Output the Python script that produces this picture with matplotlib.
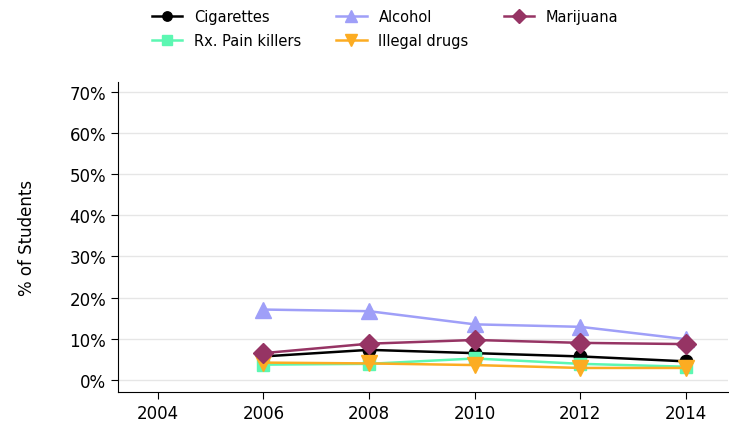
import matplotlib.pyplot as plt
from matplotlib.ticker import FuncFormatter

years = [2006, 2008, 2010, 2012, 2014]
cigarettes = [5.7, 7.3, 6.5, 5.7, 4.5]
alcohol = [17.1, 16.7, 13.5, 12.9, 9.9]
marijuana = [6.5, 8.8, 9.7, 9.0, 8.7]
rx_pain = [3.7, 3.9, 5.2, 3.9, 3.2]
illegal = [4.2, 4.0, 3.6, 2.9, 2.9]
xticks = [2004, 2006, 2008, 2010, 2012, 2014]
yticks = [0, 10, 20, 30, 40, 50, 60, 70]

plt.rcParams['font.family'] = 'DejaVu Sans'
fig = plt.figure(figsize=(7.29, 4.35), dpi=100)
ax = fig.add_axes([0.162, 0.097, 0.837, 0.712])

l_cig, = ax.plot(years, cigarettes, color='black', marker='o', ms=9, lw=1.8, label='Cigarettes')
l_alc, = ax.plot(years, alcohol, color='#9f9ff8', marker='^', ms=12, lw=1.8, label='Alcohol')
l_rx, = ax.plot(years, rx_pain, color='#5cf7b2', marker='s', ms=9, lw=1.8, label='Rx. Pain killers')
l_ill, = ax.plot(years, illegal, color='#fcac22', marker='v', ms=12, lw=1.8, label='Illegal drugs')
l_mar, = ax.plot(years, marijuana, color='#963464', marker='D', ms=10, lw=1.8, label='Marijuana')

ax.set_xlim(2003.25, 2014.8)
ax.set_ylim(-2.9, 72.4)
ax.set_xticks(xticks)
ax.set_yticks(yticks)
ax.yaxis.set_major_formatter(FuncFormatter(lambda v, p: '%d%%' % v))
ax.tick_params(labelsize=12, length=5, color='black')
ax.grid(axis='y', color='#e6e6e6', lw=1)
ax.set_axisbelow(True)
for s in ['top', 'right']:
    ax.spines[s].set_visible(False)
ax.set_ylabel('% of Students', fontsize=12, labelpad=24)

fig.legend([l_cig, l_rx, l_alc, l_ill, l_mar],
           ['Cigarettes', 'Rx. Pain killers', 'Alcohol', 'Illegal drugs', 'Marijuana'],
           ncol=3, loc='upper left', bbox_to_anchor=(0.19, 1.007), frameon=False,
           fontsize=10.5, handlelength=2.1, markerscale=0.75, columnspacing=2.4,
           labelspacing=0.6)

fig.savefig('out.png', dpi=100)
